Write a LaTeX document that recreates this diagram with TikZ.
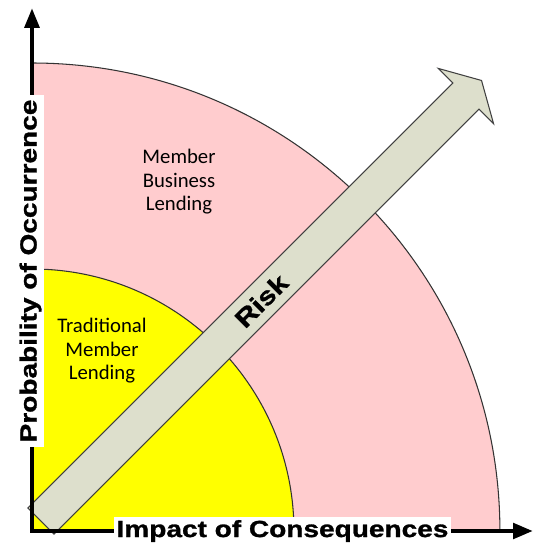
\documentclass[tikz,border=0pt]{standalone}
\usepackage{fontspec}
\setmainfont{Carlito}
\newfontfamily\axisfont[FakeStretch=1.2, FakeBold=1.2]{Liberation Sans}
\usetikzlibrary{arrows.meta}
\definecolor{outerzone}{RGB}{255,204,206}
\definecolor{innerzone}{RGB}{255,255,0}
\definecolor{riskfill}{RGB}{221,223,204}
\begin{document}
\begin{tikzpicture}[x=0.02cm, y=-0.02cm,
  zone/.style={draw=black!80, line width=0.6pt},
  zonelabel/.style={align=center, inner sep=0pt,
    font=\fontsize{11.8pt}{13.4pt}\selectfont},
  boldwide/.style={font=\axisfont\bfseries\fontsize{13.3pt}{15pt}\selectfont},
  axislabel/.style={boldwide, fill=white, inner sep=0pt},
  axisline/.style={line width=2.55pt,
    {Triangle[length=11.3pt,width=8.2pt]}-{Triangle[length=11.3pt,width=8.6pt]}},
  riskarrow/.style={fill=riskfill, draw=black!75, line width=0.6pt, line join=miter}]

\useasboundingbox (0,0) rectangle (535,545);

\coordinate (O) at (32,531);
\coordinate (ytip) at (32,8);
\coordinate (xtip) at (533,531);

% outer zone: quarter disc
\fill[outerzone] (O) -- (32,63) arc[start angle=90, end angle=0, radius=9.36cm] -- cycle;
\draw[zone] (32,63) arc[start angle=90, end angle=0, radius=9.36cm];

% inner zone: quarter disc
\fill[innerzone] (O) -- (32,269) arc[start angle=90, end angle=0, radius=5.24cm] -- cycle;
\draw[zone] (32,269) arc[start angle=90, end angle=0, radius=5.24cm];

% diagonal risk arrow
\begin{scope}[shift={(41,521)}, rotate=45]
  \draw[riskarrow] (0,-18.5) -- (601,-18.5) -- (601,-39) -- (623,0)
    -- (601,39) -- (601,18.5) -- (0,18.5) -- cycle;
  \node[boldwide, font=\axisfont\bfseries\fontsize{14.2pt}{16pt}\selectfont, rotate=45]
    (risk) at (311.5,0) {Risk};
\end{scope}

% axes
\draw[axisline] (ytip) |- (xtip);

% axis titles
\node[axislabel, minimum width=192.2pt, minimum height=15.9pt]
  (xlabel) at (282.5,531) {Impact of Consequences};
\node[axislabel, rotate=90, minimum width=200.7pt, minimum height=15.3pt]
  (ylabel) at (30.5,271) {Probability of Occurrence};

% zone titles
\node[zonelabel] (outerlabel) at (179,182) {Member\\Business\\Lending};
\node[zonelabel] (innerlabel) at (102,351) {Traditional\\Member\\Lending};

\end{tikzpicture}
\end{document}
